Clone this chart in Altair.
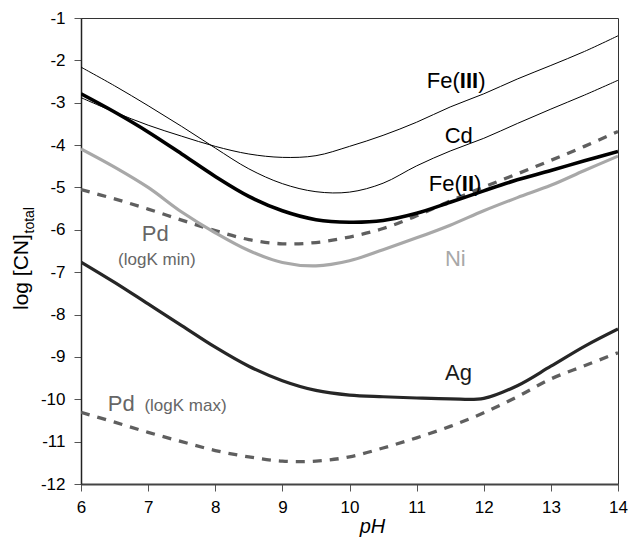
import altair as alt
import pandas as pd

# ---------------- data ----------------
ph = [6, 6.5, 7, 7.5, 8, 8.5, 9, 9.5, 10, 10.5, 11, 11.5, 12, 12.5, 13, 13.5, 14]

fe3 = [-2.88, -3.22, -3.53, -3.79, -4.03, -4.21, -4.29, -4.25, -4.03, -3.77, -3.46, -3.10, -2.79, -2.44, -2.12, -1.79, -1.42]
cd = [-2.16, -2.60, -3.07, -3.56, -4.07, -4.56, -4.91, -5.10, -5.11, -4.90, -4.49, -4.14, -3.84, -3.49, -3.15, -2.82, -2.47]
fe2 = [-2.79, -3.22, -3.69, -4.21, -4.74, -5.21, -5.55, -5.76, -5.82, -5.78, -5.61, -5.35, -5.08, -4.82, -4.60, -4.37, -4.15]
ni = [-4.09, -4.52, -5.00, -5.58, -6.07, -6.49, -6.77, -6.85, -6.73, -6.47, -6.19, -5.89, -5.55, -5.24, -4.95, -4.60, -4.26]
pd_min = [-5.05, -5.27, -5.51, -5.77, -6.02, -6.23, -6.33, -6.30, -6.17, -5.97, -5.67, -5.32, -4.99, -4.68, -4.36, -4.03, -3.68]
ag = [-6.76, -7.24, -7.75, -8.26, -8.77, -9.22, -9.56, -9.79, -9.90, -9.94, -9.97, -9.99, -9.98, -9.68, -9.22, -8.75, -8.34]
pd_max = [-10.31, -10.54, -10.78, -11.00, -11.21, -11.36, -11.46, -11.46, -11.36, -11.15, -10.91, -10.64, -10.32, -9.94, -9.52, -9.21, -8.90]

series_names = ["Fe(III)", "Cd", "Fe(II)", "Ni", "Pd min", "Ag", "Pd max"]
series_vals = [fe3, cd, fe2, ni, pd_min, ag, pd_max]

x_ticks = [6, 7, 8, 9, 10, 11, 12, 13, 14]
y_ticks = [-12, -11, -10, -9, -8, -7, -6, -5, -4, -3, -2, -1]

# curve labels (text, pH position, log value position, colour, size)
lab_c_text = ["Cd", "Ni", "Ag", "Pd", "(logK min)"]
lab_c_x = [11.628, 11.577, 11.624, 7.106, 7.13]
lab_c_y = [-3.78, -6.68, -9.38, -6.10, -6.72]
lab_c_col = ["#000000", "#a8a8a8", "#1a1a1a", "#666666", "#666666"]
lab_c_size = [22, 22, 22, 22, 17]

lab_r_text = ["Fe(", "Fe("]
lab_r_x = [11.644, 11.674]
lab_r_y = [-2.49, -4.91]

lab_b_text = ["III", "II"]
lab_b_x = [11.644, 11.674]
lab_b_y = [-2.49, -4.91]

lab_l_text = [")", ")", "Pd", "(logK max)"]
lab_l_x = [11.917, 11.855, 6.398, 6.945]
lab_l_y = [-2.49, -4.91, -10.11, -10.16]
lab_l_col = ["#000000", "#000000", "#666666", "#666666"]
lab_l_size = [22, 22, 22, 17]

ytitle_main = ["log [CN]"]
ytitle_sub = ["total"]

FONT = "Liberation Sans"

# ---------------- tables ----------------
rows = []
for name, vals in zip(series_names, series_vals):
    for p, v in zip(ph, vals):
        rows.append({"series": name, "pH": p, "value": v})
df = pd.DataFrame(rows)

x_enc = alt.X(
    "pH:Q",
    scale=alt.Scale(domain=[6, 14], nice=False, zero=False),
    axis=alt.Axis(
        values=x_ticks, title="pH", grid=False, labelFont=FONT, labelFontSize=17,
        labelColor="#000", labelPadding=8, tickSize=7, tickColor="#555",
        domainColor="#444", domainWidth=2, labelFlush=False,
        titleFont=FONT, titleFontSize=20, titleFontStyle="italic",
        titleFontWeight="normal", titleColor="#000", titleX=291, titleY=32,
        titleBaseline="top",
    ),
)
y_enc = alt.Y(
    "value:Q",
    scale=alt.Scale(domain=[-12, -1], nice=False, zero=False),
    axis=alt.Axis(
        values=y_ticks, title=None, grid=False, labelFont=FONT, labelFontSize=17,
        labelColor="#000", labelPadding=9, tickSize=7, tickColor="#555",
        domainColor="#222", domainWidth=1.5, labelExpr="'' + datum.value",
    ),
)


def curve(name, color, width, dash=None):
    kw = dict(color=color, strokeWidth=width, interpolate="catmull-rom", clip=True)
    if dash:
        kw["strokeDash"] = dash
        kw["strokeCap"] = "butt"
    return (
        alt.Chart(df)
        .transform_filter(alt.datum.series == name)
        .mark_line(**kw)
        .encode(x=x_enc, y=y_enc)
    )


lines = [
    curve("Pd max", "#5f5f5f", 3.3, [9, 8]),
    curve("Ag", "#262626", 3.2),
    curve("Pd min", "#5f5f5f", 3.3, [9, 8]),
    curve("Ni", "#a8a8a8", 3.2),
    curve("Fe(II)", "#000000", 3.6),
    curve("Cd", "#000000", 1.0),
    curve("Fe(III)", "#000000", 1.0),
]

df_c = pd.DataFrame({"t": lab_c_text, "pH": lab_c_x, "value": lab_c_y, "c": lab_c_col, "s": lab_c_size})
df_r = pd.DataFrame({"t": lab_r_text, "pH": lab_r_x, "value": lab_r_y})
df_b = pd.DataFrame({"t": lab_b_text, "pH": lab_b_x, "value": lab_b_y})
df_l = pd.DataFrame({"t": lab_l_text, "pH": lab_l_x, "value": lab_l_y, "c": lab_l_col, "s": lab_l_size})

labels_c = alt.Chart(df_c).mark_text(font=FONT, align="center", baseline="middle").encode(
    x=x_enc, y=y_enc, text="t:N", color=alt.Color("c:N", scale=None), size=alt.Size("s:Q", scale=None)
)
labels_r = alt.Chart(df_r).mark_text(font=FONT, align="right", baseline="middle", fontSize=22, color="#000").encode(
    x=x_enc, y=y_enc, text="t:N"
)
labels_b = alt.Chart(df_b).mark_text(font=FONT, align="left", baseline="middle", fontSize=22, fontWeight="bold", color="#000").encode(
    x=x_enc, y=y_enc, text="t:N"
)
labels_l = alt.Chart(df_l).mark_text(font=FONT, align="left", baseline="middle").encode(
    x=x_enc, y=y_enc, text="t:N", color=alt.Color("c:N", scale=None), size=alt.Size("s:Q", scale=None)
)

ytitle1 = alt.Chart(pd.DataFrame({"t": ytitle_main})).mark_text(
    font=FONT, fontSize=21, angle=270, align="left", baseline="alphabetic", color="#000"
).encode(text="t:N", x=alt.value(-53), y=alt.value(292))
ytitle2 = alt.Chart(pd.DataFrame({"t": ytitle_sub})).mark_text(
    font=FONT, fontSize=14, angle=270, align="left", baseline="alphabetic", color="#000"
).encode(text="t:N", x=alt.value(-47.5), y=alt.value(215.5))

chart = (
    alt.layer(*lines, labels_c, labels_r, labels_b, labels_l, ytitle1, ytitle2)
    .properties(
        width=537,
        height=466,
        autosize=alt.AutoSizeParams(type="none"),
        padding={"left": 81, "top": 18, "right": 14, "bottom": 62},
        background="white",
    )
    .configure_view(stroke="#333", strokeWidth=1)
)

chart.save("out.html", embed_options={"renderer": "svg", "actions": False})
